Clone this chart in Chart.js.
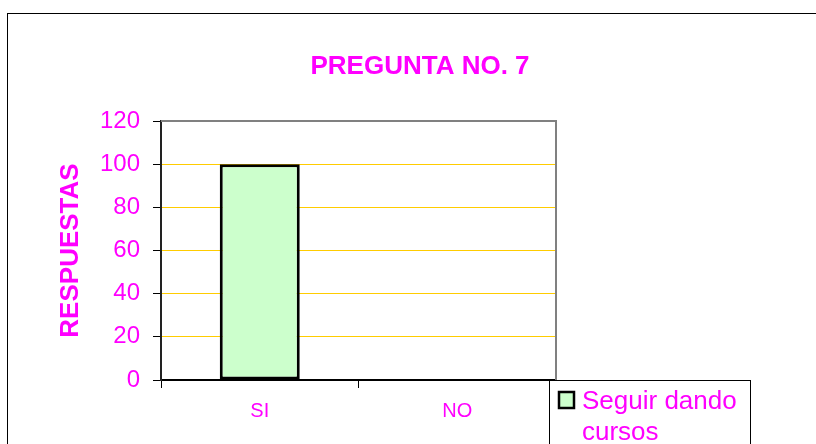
<!DOCTYPE html>
<html>
<head>
<meta charset="utf-8">
<script src="https://cdn.jsdelivr.net/npm/chart.js@4/dist/chart.umd.min.js"></script>
<style>
	html, body { margin: 0; padding: 0; background: #fff; }
	#wrap { width: 816px; height: 444px; }
</style>
</head>
<body>
<div id="wrap"><canvas id="bar-chart"></canvas></div>
<script>
const categories = ['SI', 'NO'];
const respuestas = [100, 0];
const seriesName = ['Seguir dando', 'cursos'];
const chartTitle = 'PREGUNTA NO. 7';
const axisTitle = 'RESPUESTAS';

const magenta = '#FF00FF';

// borders, title and legend drawn by hand (Excel-like layout)
const frame = {
	id: 'frame',
	afterDraw(chart) {
		const ctx = chart.ctx;
		const a = chart.chartArea;
		ctx.save();
		// outer chart border
		ctx.strokeStyle = '#000';
		ctx.lineWidth = 1;
		ctx.strokeRect(7.5, 13.5, 900, 500);
		// plot area border (top / right grey)
		ctx.strokeStyle = '#808080';
		ctx.lineWidth = 2;
		ctx.beginPath();
		ctx.moveTo(a.left, a.top);
		ctx.lineTo(a.right, a.top);
		ctx.lineTo(a.right, a.bottom);
		ctx.stroke();
		// title
		ctx.fillStyle = magenta;
		ctx.font = 'bold 26px "Liberation Sans", Arial, sans-serif';
		ctx.textAlign = 'center';
		ctx.textBaseline = 'middle';
		ctx.fillText(chartTitle, 420, 67);
		// legend
		const ds = chart.data.datasets[0];
		ctx.fillStyle = '#fff';
		ctx.fillRect(549.5, 380.5, 201, 100);
		ctx.strokeStyle = '#000';
		ctx.lineWidth = 1;
		ctx.strokeRect(549.5, 380.5, 201, 100);
		ctx.fillStyle = ds.backgroundColor;
		ctx.fillRect(559, 392, 15, 16);
		ctx.strokeStyle = ds.borderColor;
		ctx.lineWidth = 2.5;
		ctx.strokeRect(559, 392, 15, 16);
		ctx.fillStyle = magenta;
		ctx.font = '26px "Liberation Sans", Arial, sans-serif';
		ctx.textAlign = 'left';
		ctx.textBaseline = 'alphabetic';
		ds.label.forEach((line, i) => ctx.fillText(line, 582, 409 + i * 31));
		ctx.restore();
	}
};

new Chart(document.getElementById('bar-chart').getContext('2d'), {
	type: 'bar',
	data: {
		labels: categories,
		datasets: [
			{
				label: seriesName,
				data: respuestas,
				backgroundColor: '#CCFFCC',
				borderColor: '#000',
				borderWidth: 3,
				borderSkipped: false,
				barPercentage: 0.405,
				categoryPercentage: 1,
			},
		],
	},
	options: {
		responsive: true,
		maintainAspectRatio: false,
		animation: false,
		layout: { padding: { left: 55, top: 121, right: 260, bottom: 0 } },
		plugins: {
			legend: { display: false },
			title: { display: false },
			tooltip: { enabled: false },
		},
		scales: {
			x: {
				afterFit(scale) { scale.height = 64; },
				grid: { drawOnChartArea: false, tickLength: 8, tickColor: '#000' },
				border: { color: '#000', width: 2 },
				ticks: {
					color: magenta,
					padding: 11,
					font: { family: '"Liberation Sans", Arial, sans-serif', size: 20 },
				},
			},
			y: {
				min: 0,
				max: 120,
				afterFit(scale) { scale.width = 106; },
				grid: { color: '#FFCC00', tickLength: 8, tickColor: '#000' },
				border: { color: '#222', width: 2 },
				ticks: {
					stepSize: 20,
					color: magenta,
					padding: 13,
					font: { family: '"Liberation Sans", Arial, sans-serif', size: 24 },
				},
				title: {
					display: true,
					text: axisTitle,
					color: magenta,
					padding: 0,
					font: { family: '"Liberation Sans", Arial, sans-serif', size: 26, weight: 'bold' },
				},
			},
		},
	},
	plugins: [frame],
});
</script>
</body>
</html>
